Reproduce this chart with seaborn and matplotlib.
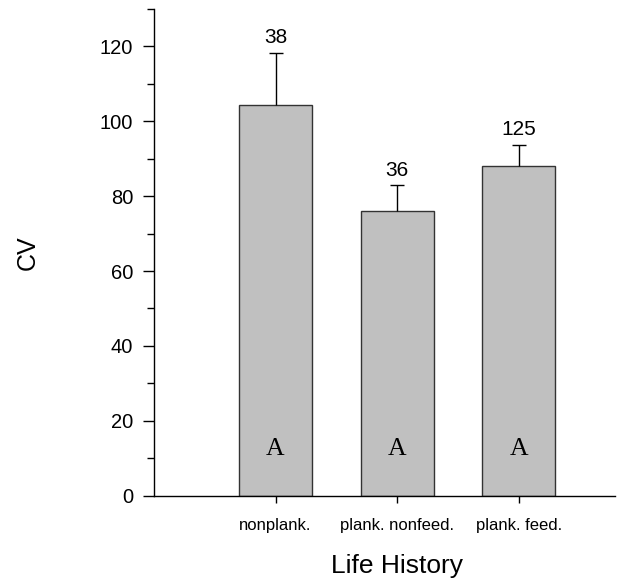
import matplotlib
matplotlib.use("Agg")
import matplotlib.pyplot as plt
import seaborn as sns
import pandas as pd
from matplotlib.ticker import MultipleLocator

categories = ["nonplank.", "plank. nonfeed.", "plank. feed."]
cv_mean = [104.2, 76.0, 88.1]
cv_err_upper = [14.1, 6.9, 5.6]
n_labels = ["38", "36", "125"]
group_letters = ["A", "A", "A"]

sns.set_style("ticks")
plt.rcParams["font.family"] = ["Liberation Sans", "DejaVu Sans"]
plt.rcParams["text.color"] = "black"
plt.rcParams["axes.labelcolor"] = "black"
plt.rcParams["xtick.color"] = "black"
plt.rcParams["ytick.color"] = "black"

df = pd.DataFrame({"Life History": categories, "CV": cv_mean})

fig = plt.figure(figsize=(6.39, 5.86), dpi=100)
ax = fig.add_axes([0.241, 0.154, 0.721, 0.831])

sns.barplot(data=df, x="Life History", y="CV", ax=ax, color="#c0c0c0",
            saturation=1, width=0.6, edgecolor="#333333", linewidth=1.0,
            errorbar=None)

xs = list(range(len(categories)))
eb = ax.errorbar(xs, cv_mean, yerr=[[0] * len(cv_mean), cv_err_upper], fmt="none",
                 ecolor="black", elinewidth=1.0, capsize=5, capthick=1.0)
# hide lower caps (upper-only error bars)
caplines = eb.lines[1]
if len(caplines) == 2:
    caplines[0].set_visible(False)

for x, m, e, lab in zip(xs, cv_mean, cv_err_upper, n_labels):
    ax.text(x, m + e + 1.5, lab, ha="center", va="bottom", fontsize=15)

for x, letter in zip(xs, group_letters):
    ax.text(x, 12.5, letter, ha="center", va="center", fontsize=18.5,
            family=["Liberation Serif", "DejaVu Serif"])

xmin, xmax = -1, 2.79
ax.set_xlim(xmin, xmax)
ax.set_ylim(0, 130)
ax.yaxis.set_major_locator(MultipleLocator(20))
ax.yaxis.set_minor_locator(MultipleLocator(10))
ax.tick_params(axis="y", which="major", length=8, width=1, labelsize=14.5, direction="out", pad=7)
ax.tick_params(axis="y", which="minor", length=5, width=1, direction="out")
ax.tick_params(axis="x", which="major", length=5, width=1, labelsize=12, direction="out", pad=11)

for s in ["top", "right"]:
    ax.spines[s].set_visible(False)
for s in ["left", "bottom"]:
    ax.spines[s].set_linewidth(1.0)
    ax.spines[s].set_color("black")

ax.set_xlabel("Life History", fontsize=19, labelpad=15)
ax.xaxis.label.set_x((1 - xmin) / (xmax - xmin))
ax.set_ylabel("CV", fontsize=18, labelpad=43)

fig.savefig("out.png", dpi=100)
